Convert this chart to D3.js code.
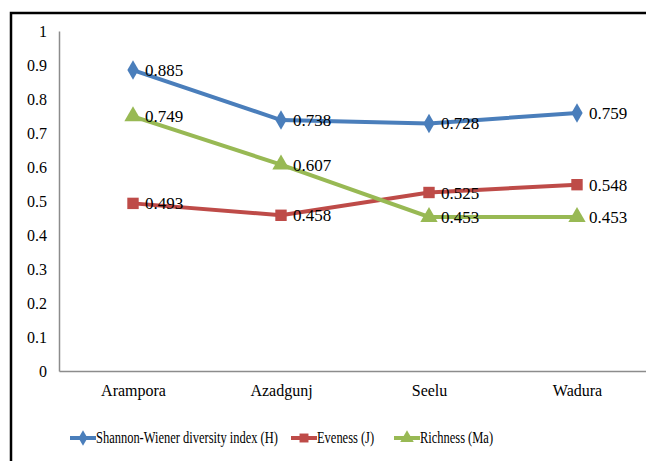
<!DOCTYPE html>
<meta charset="utf-8">
<style>
body { margin: 0; background: #fff; }
svg { display: block; }
</style>
<body>
<script src="https://d3js.org/d3.v7.min.js"></script>
<script>
// chart values
var sites = ["Arampora", "Azadgunj", "Seelu", "Wadura"];
var shannon = [0.885, 0.738, 0.728, 0.759];
var eveness = [0.493, 0.458, 0.525, 0.548];
var richness = [0.749, 0.607, 0.453, 0.453];
var seriesNames = ["Shannon-Wiener diversity index (H)", "Eveness (J)", "Richness (Ma)"];
var yTicks = [0, 0.1, 0.2, 0.3, 0.4, 0.5, 0.6, 0.7, 0.8, 0.9, 1];

var series = [
  {name: seriesNames[0], values: shannon, color: "#4a7ebb", symbol: d3.symbolDiamond},
  {name: seriesNames[1], values: eveness, color: "#be4b48", symbol: d3.symbolSquare},
  {name: seriesNames[2], values: richness, color: "#98b954", symbol: d3.symbolTriangle}
];

var serif = "'Liberation Serif', 'Times New Roman', serif";
var W = 646, H = 461;
var margin = {top: 31, left: 59};
var plotW = 592, plotH = 340;

var svg = d3.select("body").append("svg")
    .attr("width", W)
    .attr("height", H);

// outer frame (cut off at right/bottom like the original)
svg.append("rect")
    .attr("x", 11).attr("y", 13)
    .attr("width", 700).attr("height", 500)
    .attr("fill", "none")
    .attr("stroke", "#000")
    .attr("stroke-width", 2.5);

var g = svg.append("g")
    .attr("transform", "translate(" + margin.left + "," + margin.top + ")");

var x = d3.scalePoint().domain(sites).range([0, plotW]).padding(0.5);
var y = d3.scaleLinear().domain([0, 1]).range([plotH, 0]);

// y axis
var yAxis = g.append("g")
    .call(d3.axisLeft(y).tickValues(yTicks).tickSize(0).tickPadding(12)
      .tickFormat(function(d) { return d3.format("~g")(d); }));
yAxis.select(".domain").attr("stroke", "#8c8c8c").attr("stroke-width", 1.5);
yAxis.selectAll("text")
    .style("font-family", serif)
    .style("font-size", "16px")
    .attr("fill", "#000");

// x axis
var xAxis = g.append("g")
    .attr("transform", "translate(0," + plotH + ")")
    .call(d3.axisBottom(x).tickSize(0).tickPadding(14));
xAxis.select(".domain").attr("stroke", "#8c8c8c").attr("stroke-width", 1.5);
xAxis.selectAll("text")
    .style("font-family", serif)
    .style("font-size", "16px")
    .attr("fill", "#000");

var line = d3.line()
    .x(function(d, i) { return x(sites[i]); })
    .y(function(d) { return y(d); });

series.forEach(function(s) {
  g.append("path")
      .datum(s.values)
      .attr("fill", "none")
      .attr("stroke", s.color)
      .attr("stroke-width", 4)
      .attr("d", line);

  g.selectAll(null)
      .data(s.values)
      .enter()
      .append("path")
      .attr("transform", function(d, i) { return "translate(" + x(sites[i]) + "," + y(d) + ")"; })
      .attr("d", d3.symbol().type(s.symbol).size(s.symbol === d3.symbolDiamond ? 110 : 130))
      .attr("fill", s.color);
});

series.forEach(function(s) {
  g.selectAll(null)
      .data(s.values)
      .enter()
      .append("text")
      .attr("x", function(d, i) { return x(sites[i]) + 12; })
      .attr("y", function(d) { return y(d) + 6; })
      .style("font-family", serif)
      .style("font-size", "17px")
      .text(function(d) { return d3.format(".3f")(d); });
});

// legend
var legendX = [70, 291, 394];
var legend = svg.append("g")
    .attr("transform", "translate(0,438)");

series.forEach(function(s, i) {
  var lg = legend.append("g").attr("transform", "translate(" + legendX[i] + ",0)");
  lg.append("line")
      .attr("x1", 0).attr("x2", 26)
      .attr("y1", 0).attr("y2", 0)
      .attr("stroke", s.color)
      .attr("stroke-width", 4);
  lg.append("path")
      .attr("transform", "translate(13,0)")
      .attr("d", d3.symbol().type(s.symbol).size(s.symbol === d3.symbolDiamond ? 70 : 80))
      .attr("fill", s.color);
  lg.append("text")
      .attr("transform", "translate(26,5) scale(0.78,1)")
      .style("font-family", serif)
      .style("font-size", "16px")
      .text(s.name);
});
</script>
</body>
